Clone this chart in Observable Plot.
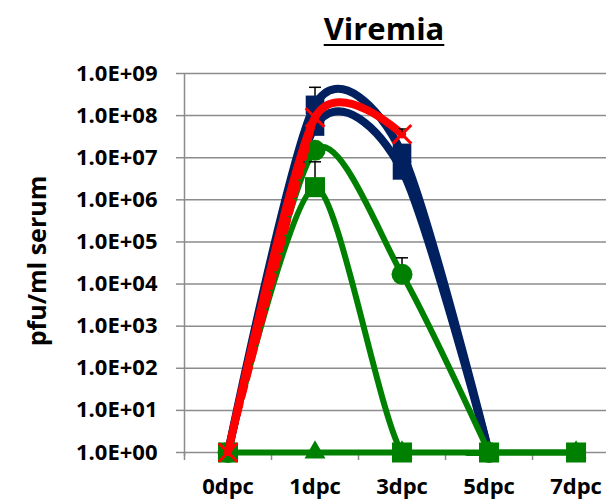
<!DOCTYPE html>
<html>
<head>
<meta charset="utf-8">
<script src="https://cdn.jsdelivr.net/npm/d3@7"></script>
<script src="https://cdn.jsdelivr.net/npm/@observablehq/plot@0.6"></script>
<style>
  body { margin: 0; background: #fff; font-family: "Open Sans", sans-serif; }
  #chart { position: relative; width: 606px; height: 499px; overflow: hidden; background: #fff; }
  #title {
    position: absolute; left: 0; top: 7px; width: 768px; text-align: center;
    font-weight: bold; font-size: 31px; line-height: normal; color: #000;
    text-decoration: underline; text-decoration-thickness: 2px; text-underline-offset: 4px;
  }
  #plot { position: absolute; left: 0; top: 50px; }
</style>
</head>
<body>
<div id="chart">
  <div id="title">Viremia</div>
  <div id="plot"></div>
</div>
<script>
// Sampling days (categories on the x axis)
const days = ["0dpc", "1dpc", "3dpc", "5dpc", "7dpc"];

// Serum titres (pfu/ml) per group, one value per day; null = not sampled
const navyUpper     = [1, 1.8e8, 1.3e7, 1];
const navyLower     = [1, 5.5e7, 5.0e6, 1];
const greenCircle   = [1, 1.5e7, 1.7e4, 1];
const greenSquare   = [1, 2.0e6, 1, 1, 1];
const greenTriangle = [1, 1, 1, 1, 1];
const redSolid      = [1, 9.0e7, 3.6e7];
const redDashed     = [1, 1.0e8];

// Upper ends of the error bars (mean + SD)
const navyUpperErr   = [null, 4.7e8, null, null];
const greenCircleErr = [null, null, 4.2e4, null];
const greenSquareErr = [null, 8.0e6, null, null, null];
const redSolidErr    = [null, null, 4.8e7];

// Y axis ticks and their labels
const yTicks = [1e0, 1e1, 1e2, 1e3, 1e4, 1e5, 1e6, 1e7, 1e8, 1e9];
const yTickLabels = ["1.0E+00", "1.0E+01", "1.0E+02", "1.0E+03", "1.0E+04",
                     "1.0E+05", "1.0E+06", "1.0E+07", "1.0E+08", "1.0E+09"];
// Category boundaries (where the x axis tick marks sit)
const xBoundaries = [-0.5, 0.5, 1.5, 2.5, 3.5];

const NAVY = "#002060", GREEN = "#008000", RED = "#ff0000", GRID = "#8c8c8c";

function rows(values, err) {
  return values
    .map((v, i) => ({ i, day: days[i], v, hi: err ? err[i] : null }))
    .filter(d => d.v != null);
}

// Short horizontal stroke used as the error-bar cap
const capSymbol = { draw(ctx) { ctx.moveTo(-6, 0); ctx.lineTo(6, 0); } };

const series = [
  { values: navyUpper, err: navyUpperErr, color: NAVY, width: 8, symbol: "square", r: 10.5 },
  { values: navyLower, err: null, color: NAVY, width: 8, symbol: "square", r: 10.5 },
  { values: greenCircle, err: greenCircleErr, color: GREEN, width: 6, symbol: "circle", r: 10.5 },
  { values: greenSquare, err: greenSquareErr, color: GREEN, width: 6, symbol: "square", r: 11.3 },
  { values: greenTriangle, err: null, color: GREEN, width: 6, symbol: "triangle", r: 7.8 },
  { values: redSolid, err: redSolidErr, color: RED, width: 8, symbol: null },
  { values: redDashed, err: null, color: RED, width: 6, dash: "12,7", symbol: null }
];

const lineOf = s => Plot.line(rows(s.values), {
  x: "i", y: "v", stroke: s.color, strokeWidth: s.width,
  strokeDasharray: s.dash, curve: "cardinal", tension: 0.2, clip: true
});

const seriesMarks = series.flatMap(s => {
  const data = rows(s.values, s.err);
  const marks = [lineOf(s)];
  if (s.err) {
    const errData = data.filter(d => d.hi != null);
    marks.push(Plot.ruleX(errData, { x: "i", y1: "v", y2: "hi", stroke: "#000", strokeWidth: 1.5 }));
    marks.push(Plot.dot(errData, { x: "i", y: "hi", symbol: capSymbol, r: 6, stroke: "#000", strokeWidth: 1.5, fill: "none" }));
  }
  if (s.symbol) {
    marks.push(Plot.dot(data, { x: "i", y: "v", symbol: s.symbol, r: s.r, fill: s.color, stroke: "none" }));
  }
  return marks;
});

// red cross markers sit on top of both red lines
const redMarkers = Plot.dot(rows(redSolid), {
  x: "i", y: "v", symbol: "times", r: 8.5, stroke: RED, strokeWidth: 3
});

const chart = Plot.plot({
  width: 606,
  height: 449,
  marginLeft: 184,
  marginRight: 0,
  marginTop: 23,
  marginBottom: 43,
  insetBottom: 4,
  x: { type: "linear", domain: [-0.5, 4.35], axis: null },
  y: { type: "log", domain: [1, 1e9], axis: null },
  style: { fontFamily: "Open Sans", fontWeight: "bold", fontSize: "22px", color: "#000", background: "#fff" },
  marks: [
    // horizontal gridlines
    Plot.ruleY(yTicks, { stroke: GRID, strokeWidth: 1.5 }),
    // y axis line
    Plot.ruleX([xBoundaries[0]], { stroke: GRID, strokeWidth: 1.5 }),
    // y axis ticks and labels
    Plot.axisY({
      ticks: yTicks, tickSize: 8, tickPadding: 19, stroke: GRID, strokeWidth: 1.5,
      tickFormat: d => yTickLabels[yTicks.indexOf(d)], label: null
    }),
    // x axis tick marks on category boundaries
    Plot.axisX({
      ticks: xBoundaries, tickSize: 8, dy: -4, stroke: GRID, strokeWidth: 1.5,
      tickFormat: () => "", label: null
    }),
    // x axis category labels
    Plot.axisX({
      ticks: days.map((d, i) => i), tickSize: 0, tickPadding: 22,
      tickFormat: i => days[i], label: null
    }),
    // y axis title
    Plot.text(["pfu/ml serum"], {
      frameAnchor: "left", textAnchor: "middle", dx: -147, dy: -4, rotate: -90,
      fontSize: 25, fontWeight: "bold", text: d => d
    }),
    ...seriesMarks,
    redMarkers
  ]
});

document.getElementById("plot").appendChild(chart);
</script>
</body>
</html>
